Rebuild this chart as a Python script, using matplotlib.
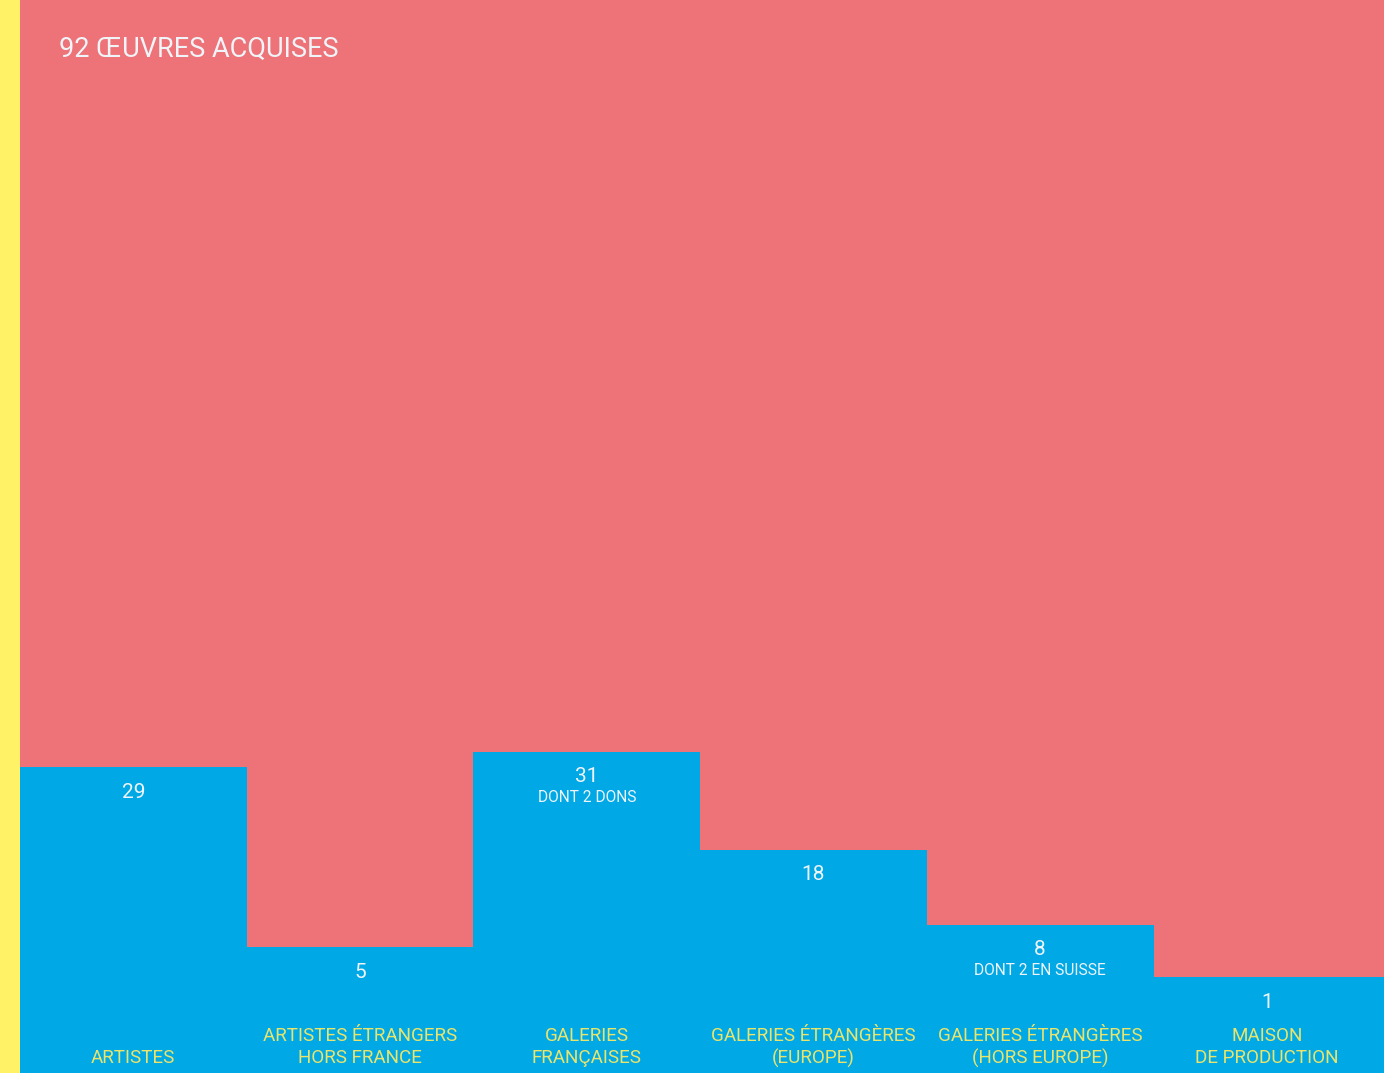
import matplotlib.pyplot as plt

plt.rcParams['font.family'] = ['Roboto', 'DejaVu Sans']

categories = [
    'ARTISTES',
    'ARTISTES ÉTRANGERS\nHORS FRANCE',
    'GALERIES\nFRANÇAISES',
    'GALERIES ÉTRANGÈRES\n(EUROPE)',
    'GALERIES ÉTRANGÈRES\n(HORS EUROPE)',
    'MAISON\nDE PRODUCTION',
]
counts = [29, 5, 31, 18, 8, 1]
notes = ['', '', 'DONT 2 DONS', '', 'DONT 2 EN SUISSE', '']
title = '92 ŒUVRES ACQUISES'

RED = '#EE7378'
BLUE = '#00A9E6'
YELLOW = '#FFF266'
LABEL_YELLOW = '#EBE46A'
TEXT = '#EEF4F8'

W, H = 1384, 1073
fig = plt.figure(figsize=(W / 100, H / 100), dpi=100, facecolor=YELLOW)

strip = 20
ax = fig.add_axes([strip / W, 0, (W - strip) / W, 1])
ax.set_facecolor(RED)

# bars sit on a base that leaves room for the category labels
base = 11.8
px_per_unit = 7.5
col_px = 226.7
ax.set_xlim(0, (W - strip) / col_px)
ax.set_ylim(-base, -base + H / px_per_unit)

x = [i + 0.5 for i in range(len(counts))]
widths = [1.0] * (len(counts) - 1) + [1.1]
ax.bar([i for i in range(len(counts))], [c + base for c in counts],
       bottom=-base, width=widths, align='edge', color=BLUE, linewidth=0)

for xi, c, note in zip(x, counts, notes):
    ax.annotate(str(c), xy=(xi, c), xytext=(0, -25), textcoords='offset pixels',
                ha='center', va='center', color=TEXT, fontsize=15)
    if note:
        ax.annotate(note, xy=(xi, c), xytext=(0, -46), textcoords='offset pixels',
                    ha='center', va='center', color=TEXT, fontsize=11.2)

for xi, label in zip(x, categories):
    lines = label.split('\n')
    if len(lines) == 1:
        lines = [''] + lines
    for k, line in enumerate(lines):
        ax.text(xi, (37 - 22 * k) / H, line, transform=ax.get_xaxis_transform(),
                ha='center', va='center', color=LABEL_YELLOW, fontsize=13.6)

ax.set_xticks([])
ax.set_yticks([])
for spine in ax.spines.values():
    spine.set_visible(False)

fig.text(59 / W, 1 - 49 / H, title, ha='left', va='center', color=TEXT,
         fontsize=19.5)

fig.savefig('out.png', dpi=100, facecolor=YELLOW)
